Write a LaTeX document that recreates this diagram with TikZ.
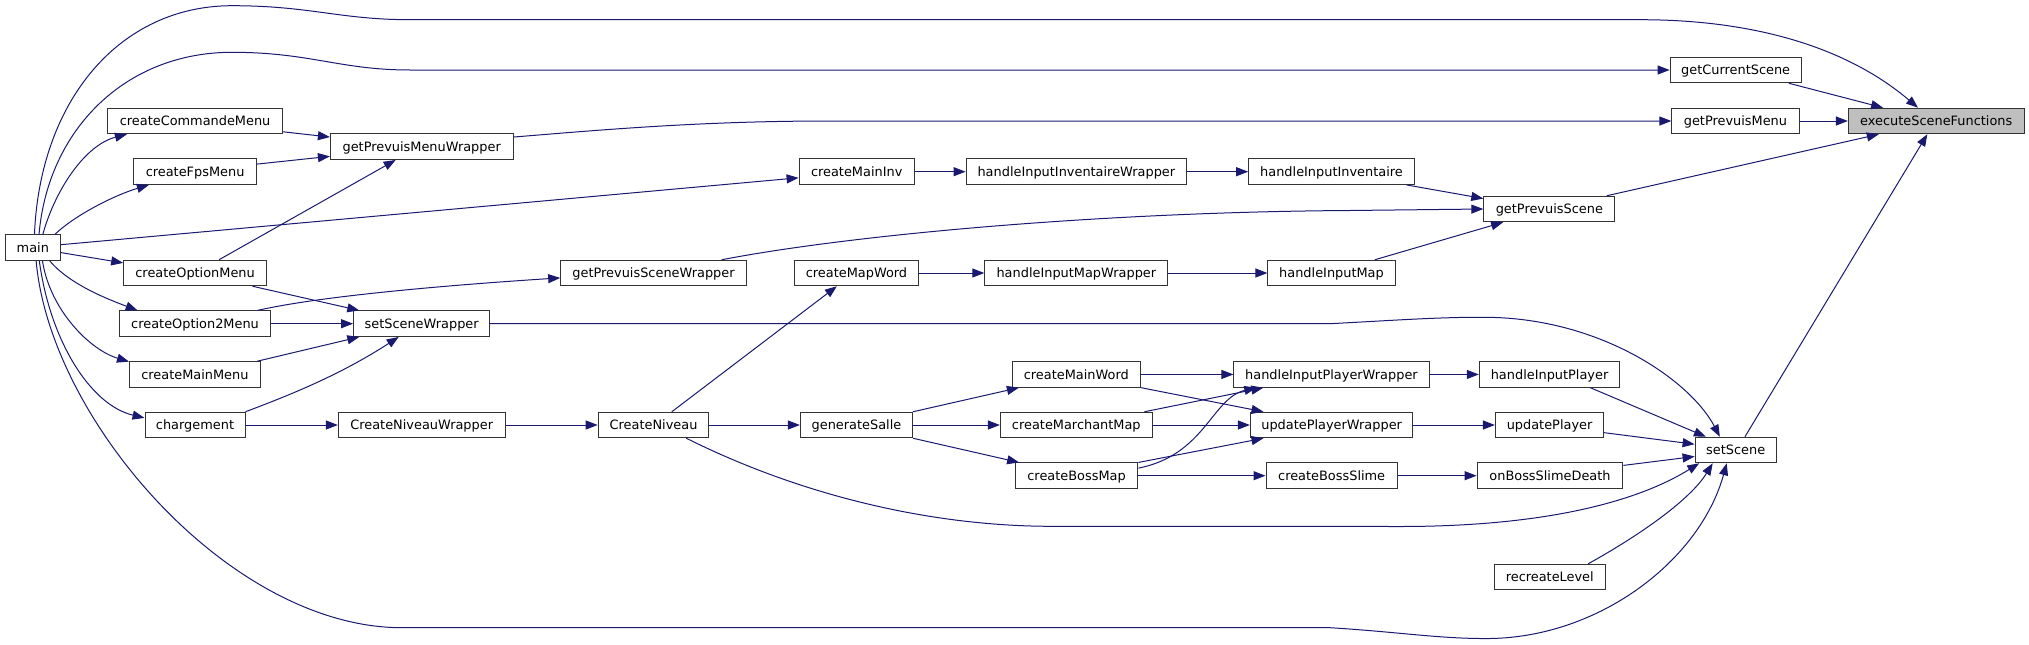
\documentclass[tikz,border=0pt]{standalone}
\usepackage{fontspec}
\setmainfont{DejaVu Sans}
\usetikzlibrary{arrows.meta}
\definecolor{edgec}{HTML}{191970}
\definecolor{boxc}{HTML}{333333}
\definecolor{hl}{HTML}{BFBFBF}
\begin{document}
\begin{tikzpicture}[x=1pt,y=-1pt,
  fn/.style={draw=boxc, line width=1pt, fill=white, minimum height=25.5pt, inner sep=0pt,
    text height=12pt, text depth=2.3pt, font=\fontsize{12.9}{14}\selectfont},
  call/.style={draw=edgec, line width=1pt, -{Triangle[length=12pt,width=9pt]}}]
\useasboundingbox (0,0) rectangle (2029,645);
% nodes
\node[fn, minimum width=54.9pt]  (main)   at (32.85,247.65) {main};
\node[fn, minimum width=175pt]   (cCM)    at (195.1,121)    {createCommandeMenu};
\node[fn, minimum width=123.2pt] (cFM)    at (195.1,171.7)  {createFpsMenu};
\node[fn, minimum width=142.8pt] (cOM)    at (195.1,273)    {createOptionMenu};
\node[fn, minimum width=150.9pt] (cO2M)   at (195.05,323.7) {createOption2Menu};
\node[fn, minimum width=130.8pt] (cMMenu) at (194.9,374.45) {createMainMenu};
\node[fn, minimum width=100pt]   (charg)  at (195,425)      {chargement};
\node[fn, minimum width=182.6pt] (gPMW)   at (421.7,146.7)  {getPrevuisMenuWrapper};
\node[fn, minimum width=136.1pt] (sSW)    at (421.65,323.7) {setSceneWrapper};
\node[fn, minimum width=166.6pt] (CNW)    at (421.7,425)    {CreateNiveauWrapper};
\node[fn, minimum width=185.7pt] (gPSW)   at (653.55,273)   {getPrevuisSceneWrapper};
\node[fn, minimum width=110.7pt] (CN)     at (653.55,425)   {CreateNiveau};
\node[fn, minimum width=115.2pt] (cMI)    at (856.7,171.7)  {createMainInv};
\node[fn, minimum width=124.6pt] (cMWd)   at (856.5,273)    {createMapWord};
\node[fn, minimum width=112.1pt] (gS)     at (856.45,425)   {generateSalle};
\node[fn, minimum width=220.5pt] (hIIW)   at (1076.35,171.7){handleInputInventaireWrapper};
\node[fn, minimum width=183.1pt] (hIMW)   at (1076.35,273)  {handleInputMapWrapper};
\node[fn, minimum width=128.6pt] (cMainW) at (1076.3,374.45){createMainWord};
\node[fn, minimum width=151.8pt] (cMarch) at (1076.3,425)   {createMarchantMap};
\node[fn, minimum width=122.7pt] (cBoss)  at (1076.55,475.7){createBossMap};
\node[fn, minimum width=165.6pt] (hII)    at (1331.5,171.7) {handleInputInventaire};
\node[fn, minimum width=127.2pt] (hIM)    at (1331.5,273)   {handleInputMap};
\node[fn, minimum width=195.1pt] (hIPW)   at (1331.45,374.45){handleInputPlayerWrapper};
\node[fn, minimum width=162.5pt] (uPW)    at (1331.65,425)  {updatePlayerWrapper};
\node[fn, minimum width=131.3pt] (cBS)    at (1331.65,475.7){createBossSlime};
\node[fn, minimum width=131.1pt] (gPS)    at (1549.35,209)  {getPrevuisScene};
\node[fn, minimum width=140.5pt] (hIP)    at (1549.55,374.45){handleInputPlayer};
\node[fn, minimum width=108.3pt] (uP)     at (1549.55,425)  {updatePlayer};
\node[fn, minimum width=145.8pt] (oBSD)   at (1550,475.7)   {onBossSlimeDeath};
\node[fn, minimum width=110.5pt] (rL)     at (1549.75,577)  {recreateLevel};
\node[fn, minimum width=131.1pt] (gCS)    at (1735.65,70)   {getCurrentScene};
\node[fn, minimum width=127.1pt] (gPM)    at (1735.45,121)  {getPrevuisMenu};
\node[fn, minimum width=81.1pt]  (setScene) at (1735.65,450) {setScene};
\node[fn, minimum width=175.7pt, fill=hl] (exec) at (1936.25,121) {executeSceneFunctions};
% edges from main
\draw[call] (main.83) .. controls (40,100) and (120,5.7) .. (232,5.7) .. controls (310,5.7) and (340,19.7) .. (410,19.7) -- (1640,19.7) .. controls (1760,19.7) and (1850,50) .. (exec.144);
\draw[call] (main.65) .. controls (48,130) and (125,52.3) .. (232,52.3) .. controls (310,52.3) and (340,70) .. (410,70) -- (gCS.west);
\draw[call] (main.53) .. controls (55,190) and (85,145) .. (cCM.191);
\draw[call] (main.31) .. controls (75,215) and (115,195) .. (cFM.196);
\draw[call] (main.6) -- (cMI.186);
\draw[call] (main.350) -- (cOM.172);
\draw[call] (main.322) .. controls (70,285) and (110,300) .. (cO2M.167);
\draw[call] (main.306) .. controls (50,310) and (90,350) .. (cMMenu.169);
\draw[call] (main.296) .. controls (50,340) and (90,405) .. (charg.172);
\draw[call] (main.284) .. controls (50,420) and (230,627.7) .. (402,627.7) -- (1330,627.7) .. controls (1400,632) and (1440,639) .. (1490,638.5) .. controls (1600,637) and (1700,560) .. (setScene.236);
% left block
\draw[call] (cCM.353) -- (gPMW.174);
\draw[call] (cFM.7) -- (gPMW.186);
\draw[call] (cOM.29) -- (gPMW.207);
\draw[call] (cOM.347) -- (sSW.168);
\draw[call] (cO2M.12) .. controls (320,296) and (450,285) .. (gPSW.183);
\draw[call] (cO2M.east) -- (sSW.west);
\draw[call] (cMMenu.12) -- (sSW.192);
\draw[call] (charg.north east) .. controls (290,395) and (340,375) .. (sSW.210);
\draw[call] (charg.east) -- (CNW.west);
\draw[call] (CNW.east) -- (CN.west);
\draw[call] (gPMW.6) .. controls (600,130) and (700,121) .. (830,121) -- (gPM.west);
\draw[call] (sSW.east) -- (1330,323.7) .. controls (1400,320) and (1440,317) .. (1486,317.3) .. controls (1600,318) and (1690,380) .. (setScene.140);
\draw[call] (gPSW.11) .. controls (850,235) and (1100,212) .. (1350,210.5) -- (gPS.west);
% middle
\draw[call] (cMI.east) -- (hIIW.west);
\draw[call] (hIIW.east) -- (hII.west);
\draw[call] (hII.350) -- (gPS.171);
\draw[call] (hIM.17) -- (gPS.196);
\draw[call] (CN.36) -- (cMWd.214);
\draw[call] (cMWd.east) -- (hIMW.west);
\draw[call] (hIMW.east) -- (hIM.west);
\draw[call] (CN.east) -- (gS.west);
\draw[call] (CN.338) .. controls (800,495) and (930,526.3) .. (1052,526.3) -- (1400,526.5) .. controls (1550,526.5) and (1640,500) .. (setScene.200);
\draw[call] (gS.north east) -- (cMainW.193);
\draw[call] (gS.east) -- (cMarch.west);
\draw[call] (gS.south east) -- (cBoss.167);
\draw[call] (cMainW.east) -- (hIPW.west);
\draw[call] (cMainW.south east) -- (uPW.169);
\draw[call] (cMarch.11) -- (hIPW.191);
\draw[call] (cMarch.east) -- (uPW.west);
\draw[call] (cBoss.north east) -- (uPW.191);
\draw[call] (cBoss.7) .. controls (1205,455) and (1212,398) .. (hIPW.190);
\draw[call] (cBoss.east) -- (cBS.west);
\draw[call] (hIPW.east) -- (hIP.west);
\draw[call] (uPW.east) -- (uP.west);
\draw[call] (cBS.east) -- (oBSD.west);
% right
\draw[call] (hIP.342) -- (setScene.156);
\draw[call] (uP.352) -- (setScene.172);
\draw[call] (oBSD.8) -- (setScene.189);
\draw[call] (rL.19) .. controls (1640,535) and (1690,500) .. (setScene.210);
\draw[call] (gCS.346) -- (exec.166);
\draw[call] (gPM.east) -- (exec.west);
\draw[call] (gPS.13) -- (exec.193);
\draw[call] (setScene.55) -- (exec.236);
\end{tikzpicture}
\end{document}
